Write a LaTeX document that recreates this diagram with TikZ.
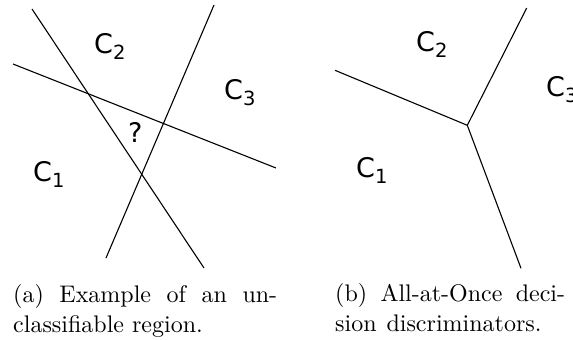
\documentclass[tikz,border=0pt]{standalone}
\usepackage{fontspec}
\newfontfamily\labfont{DejaVu Sans}
\tikzset{
  bound/.style={line width=1.1pt, black},
  cls/.style={inner sep=0pt, anchor=base west, font=\labfont\fontsize{27}{27}\selectfont},
  capline/.style={inner sep=0pt, anchor=base west}
}
\newcommand{\cl}[1]{C\raisebox{-6pt}{\fontsize{19.5}{19.5}\selectfont #1}}
\newcommand{\capl}[2]{\scalebox{2.4}{\fontsize{10}{12}\selectfont\makebox[#1][s]{#2}}}
\begin{document}
\begin{tikzpicture}[x=1pt,y=-1pt]
\useasboundingbox (0,0) rectangle (573,340);
% panel (a)
\coordinate (a1) at (32,9);
\coordinate (a2) at (204,268);
\coordinate (b1) at (13,64);
\coordinate (b2) at (276,168);
\coordinate (c1) at (214,5);
\coordinate (c2) at (106,258);
\draw[bound] (a1) -- (a2);
\draw[bound] (b1) -- (b2);
\draw[bound] (c1) -- (c2);
\node[cls] (aC2) at (94,53) {\cl{2}};
\node[cls] (aC3) at (224,99) {\cl{3}};
\node[cls] (aQ) at (128,142) {?};
\node[cls] (aC1) at (33,181) {\cl{1}};
% panel (b)
\coordinate (o) at (467.3,125.3);
\coordinate (l) at (335,70.3);
\coordinate (t) at (526.7,8);
\coordinate (d) at (521,268.3);
\draw[bound] (l) -- (o) -- (d);
\draw[bound] (t) -- (o);
\node[cls] (bC2) at (416,51) {\cl{2}};
\node[cls] (bC3) at (546,96) {\cl{3}};
\node[cls] (bC1) at (356,177) {\cl{1}};
% captions
\node[capline] (ca1) at (13,302) {\capl{110pt}{(a) Example of an un-}};
\node[capline] (ca2) at (13,332) {\capl{79pt}{classifiable region.}};
\node[capline] (cb1) at (335,301) {\capl{95.8pt}{(b) All-at-Once deci-}};
\node[capline] (cb2) at (335,331) {\capl{86pt}{sion discriminators.}};
\end{tikzpicture}
\end{document}
